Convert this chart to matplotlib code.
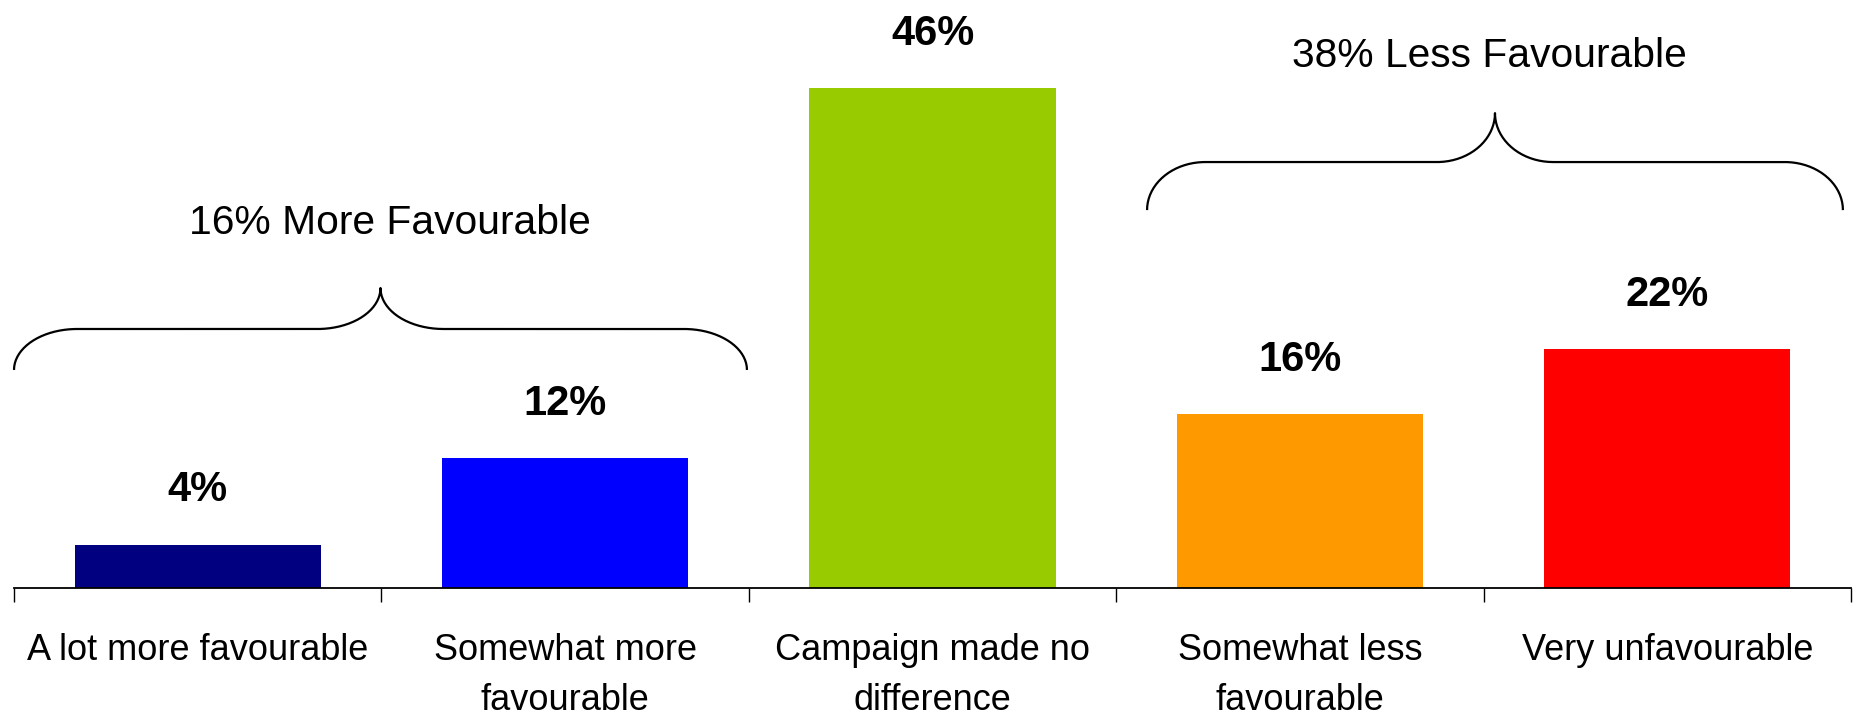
import numpy as np
import matplotlib
matplotlib.use("Agg")
import matplotlib.pyplot as plt

plt.rcParams['font.family'] = ['Liberation Sans', 'DejaVu Sans']

categories = ["A lot more favourable", "Somewhat more\nfavourable",
              "Campaign made no\ndifference", "Somewhat less\nfavourable",
              "Very unfavourable"]
values = [4, 12, 46, 16, 22]
value_labels = ["4%", "12%", "46%", "16%", "22%"]
colors = ["#000080", "#0000FF", "#99CC00", "#FF9900", "#FF0000"]

group_labels = ["16% More Favourable", "38% Less Favourable"]
# brace spans (x start, x end) in category units, baseline height in %
brace_x = [(-0.5, 1.495), (2.584, 4.478)]
brace_base = [20.06, 34.77]
brace_rise = [(3.77, 3.77), (4.42, 4.50)]
brace_r = [0.1715, 0.158]
group_text_pos = [(0.523, 32.6), (3.515, 47.9)]

W, H = 1860, 716
fig = plt.figure(figsize=(W / 100, H / 100), dpi=100)
ax = fig.add_axes([14 / W, (H - 588) / H, (1851 - 14) / W, 588 / H])

x = np.arange(len(categories))
ax.bar(x, values, width=0.67, color=colors, zorder=2)
ax.set_xlim(-0.5, len(categories) - 0.5)
ax.set_ylim(0, 54.1)

for xi, v, lab in zip(x, values, value_labels):
    ax.annotate(lab, (xi, v), xytext=(0, 31), textcoords='offset points',
                ha='center', va='baseline', fontsize=30, fontweight='bold',
                annotation_clip=False)

# axes styling
for s in ['left', 'top', 'right']:
    ax.spines[s].set_visible(False)
ax.spines['bottom'].set_linewidth(1.3)
ax.set_yticks([])
ax.set_xticks(x)
ax.set_xticklabels(categories, fontsize=26, linespacing=1.55)
ax.tick_params(axis='x', which='major', length=0, pad=32.5)
ax.set_xticks(np.arange(-0.5, len(categories)), minor=True)
ax.tick_params(axis='x', which='minor', length=10, width=1.0, direction='out')


def brace(ax, x0, x1, base, rise, rx):
    ry1, ry2 = rise
    mid = (x0 + x1) / 2
    flat = base + ry1
    t = np.linspace(0, np.pi / 2, 40)
    # left end: vertical at x0 going up into flat
    lx = x0 + rx - rx * np.cos(t)
    ly = base + ry1 * np.sin(t)
    # left of mid: flat curving up to tip
    mx1 = mid - rx + rx * np.sin(t)
    my1 = flat + ry2 * (1 - np.cos(t))
    # right of mid
    mx2 = mid + rx - rx * np.sin(t[::-1])
    my2 = flat + ry2 * (1 - np.cos(t[::-1]))
    # right end
    rx_ = x1 - rx + rx * np.sin(t)
    ry_ = flat - ry1 * (1 - np.cos(t))
    xs = np.concatenate([lx, mx1, mx2, rx_])
    ys = np.concatenate([ly, my1, my2, ry_])
    ax.plot(xs, ys, color='black', lw=1.6, clip_on=False, zorder=3,
            solid_capstyle='butt')


for (x0, x1), b, r, rr in zip(brace_x, brace_base, brace_rise, brace_r):
    brace(ax, x0, x1, b, r, rr)

for lab, (tx, ty) in zip(group_labels, group_text_pos):
    ax.text(tx, ty, lab, ha='center', va='baseline', fontsize=29.3)

fig.savefig("out.png", dpi=100)
